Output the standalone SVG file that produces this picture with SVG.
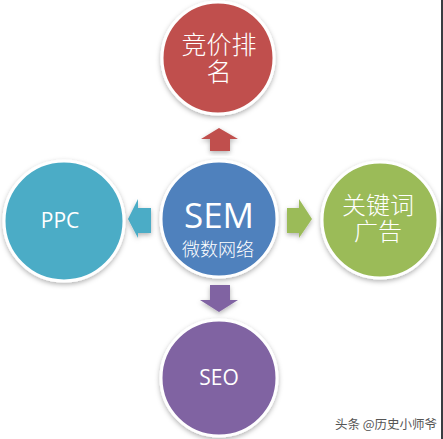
<svg xmlns="http://www.w3.org/2000/svg" width="443" height="439" viewBox="0 0 443 439">
  <defs>
    <filter id="sh" x="-20%" y="-20%" width="140%" height="140%">
      <feDropShadow dx="0" dy="2" stdDeviation="2.5" flood-color="#000" flood-opacity="0.3"/>
    </filter>
    <style>
      .c { stroke: #ffffff; stroke-width: 3; filter: url(#sh); }
      .t { fill: #ffffff; text-anchor: middle; font-family: "Open Sans", "Liberation Sans", "Noto Sans CJK SC", sans-serif; }
      .cjk { fill: #ffffff; text-anchor: middle; font-family: "Noto Sans CJK SC", sans-serif; font-weight: 300; }
      .ar { filter: url(#sh); }
    </style>
  </defs>
  <rect width="443" height="439" fill="#ffffff"/>
  <rect x="441" y="0" width="2" height="439" fill="#3a3d42"/>

  <g id="connectors">
    <polygon class="ar" fill="#c0504d" points="219,128 238,139 230,139 230,151 210,151 210,139 201,139"/>
    <polygon class="ar" fill="#4bacc6" points="128,219 138,199 138,208 151,208 151,233 138,233 138,238"/>
    <polygon class="ar" fill="#9bbb59" points="312,219 299,199 299,208 287,208 287,233 299,233 299,238"/>
    <polygon class="ar" fill="#8064a2" points="219,312 238,300 230,300 230,285 210,285 210,300 200,300"/>
  </g>

  <g id="node-top">
    <circle class="c" cx="218" cy="58" r="56" fill="#c0504d"/>
    <text class="cjk" font-size="25"><tspan x="219" y="54">竞价排</tspan><tspan x="219" y="81">名</tspan></text>
  </g>

  <g id="node-center">
    <circle class="c" cx="219" cy="219" r="58" fill="#4f81bd"/>
    <text class="t" font-size="35"><tspan x="219" y="228">SEM</tspan><tspan class="cjk" x="218" y="256" font-size="18">微数网络</tspan></text>
  </g>

  <g id="node-left">
    <circle class="c" cx="64" cy="221" r="60" fill="#4bacc6"/>
    <text class="t" x="60" y="228" font-size="21">PPC</text>
  </g>

  <g id="node-right">
    <circle class="c" cx="380" cy="220" r="58" fill="#9bbb59"/>
    <text class="cjk" font-size="24"><tspan x="378" y="214">关键词</tspan><tspan x="378" y="240">广告</tspan></text>
  </g>

  <g id="node-bottom">
    <circle class="c" cx="219" cy="378" r="58" fill="#8064a2"/>
    <text class="t" x="219" y="385" font-size="21">SEO</text>
  </g>

  <text x="386" y="429" font-size="12.5" fill="#555555" text-anchor="middle" font-family="'Noto Sans CJK SC', sans-serif">头条 @历史小师爷</text>
</svg>
